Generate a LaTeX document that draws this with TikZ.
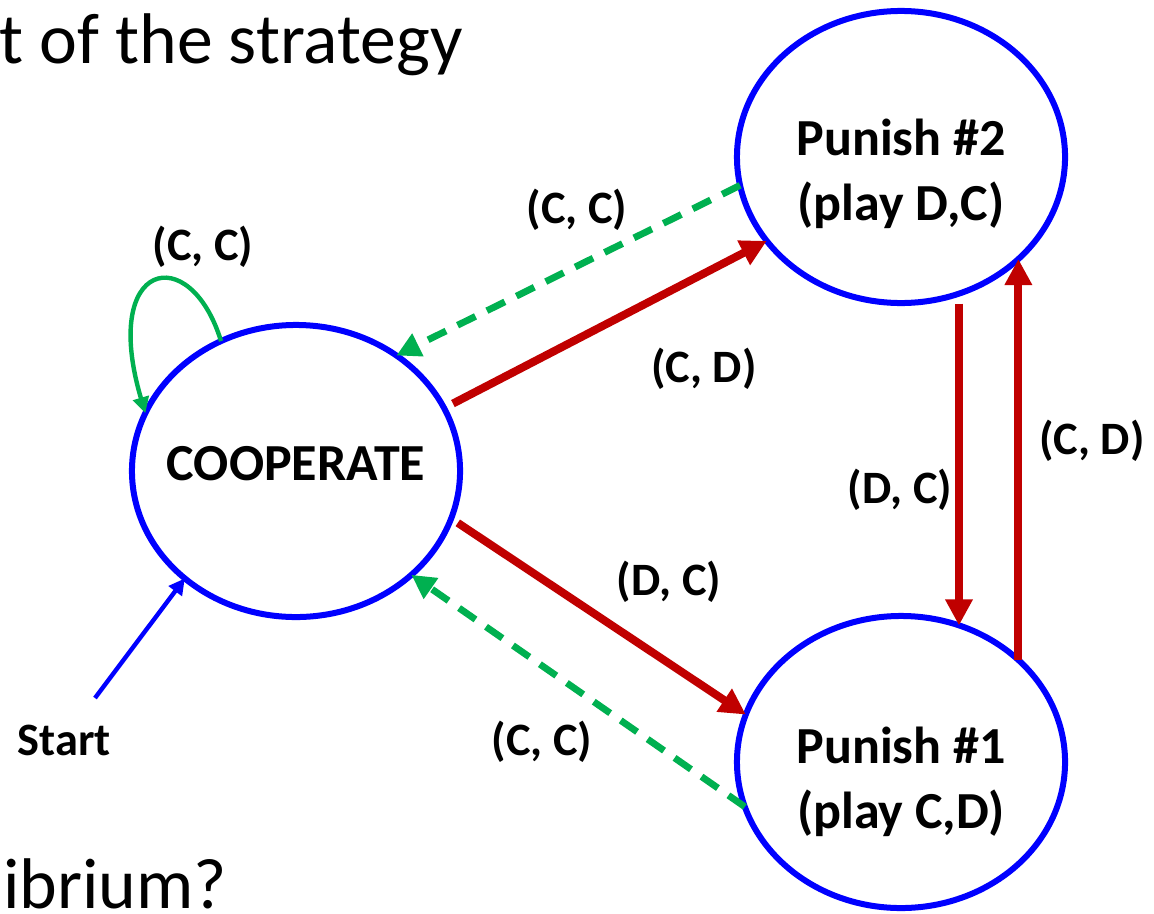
\documentclass[tikz,border=0pt]{standalone}
\usepackage{fontspec}
\setmainfont{Carlito}
\usetikzlibrary{arrows.meta, shapes.geometric}

\definecolor{stateblue}{RGB}{0,0,255}
\definecolor{punishred}{RGB}{192,0,0}
\definecolor{forgivegreen}{RGB}{0,176,80}

\begin{document}
\begin{tikzpicture}[x = 0.025cm, y = -0.025cm,
    state/.style = {draw = stateblue, line width = 0.15cm, ellipse, minimum width = 8.2cm, minimum height = 7.3cm, inner sep = 0, outer sep = 0},
    statetext/.style = {font = \fontsize{37}{46}\selectfont\bfseries, align = center, inner sep = 0, anchor = base},
    move/.style = {font = \fontsize{33}{39}\selectfont\bfseries, inner sep = 0},
    slide/.style = {font = \fontsize{51}{61}\selectfont, inner sep = 0, anchor = base west},
    punisharrow/.style = {draw = punishred, line width = 0.2cm, -{Triangle[length = 0.65cm, width = 0.65cm]}},
    forgivearrow/.style = {draw = forgivegreen, line width = 0.17cm, dash pattern = on 0.5cm off 0.32cm, -{Triangle[length = 0.6cm, width = 0.6cm]}},
    thinarrow/.style = {line width = 0.11cm, -{Triangle[length = 0.4cm, width = 0.4cm]}}]

    \useasboundingbox (0, 0) rectangle (1154, 913);

% Slide text cut off by the screenshot.
    \node[slide] (title) at (-1, 63) {t of the strategy};
    \node[slide] (question) at (3, 908) {ibrium?};

% The three states of the machine.
    \node[state] (coop) at (296, 471) {};
    \node[state] (p2) at (901, 157) {};
    \node[state] (p1) at (901, 762) {};

    \node[statetext] (cooptext) at (296, 480) {COOPERATE};
    \node[statetext] (p2text) at (901, 220) {Punish \#2\\(play D,C)};
    \node[statetext] (p1text) at (901, 828) {Punish \#1\\(play C,D)};

% Start arrow and the loop on COOPERATE.
    \coordinate (entry) at (95, 698);
    \draw[thinarrow, stateblue] (entry) -- (coop.-136.8);
    \draw[thinarrow, forgivegreen] (coop.120.4) .. controls (190, 240) and (100, 260) .. (coop.159.4);

% Transitions between the states.
    \draw[forgivearrow] (p2.190) -- (coop.49.7);
    \draw[punisharrow, shorten <= 0.25cm] (coop.23.6) -- (p2.212.5);
    \draw[punisharrow, shorten <= 0.2cm] (coop.-17.8) -- (p1.163.4);
    \draw[forgivearrow] (p1.196.8) -- (coop.-42.7);
    \draw[punisharrow, shorten <= 0.25cm] (p2.-67.6) -- (p1.67.6);
    \draw[punisharrow] (p1.41.9) -- (p2.-41.9);

% Labels of the moves.
    \node[move] (start) at (64, 740) {Start};
    \node[move] (loopcc) at (203, 247) {(C, C)};
    \node[move] (backcc) at (577, 210) {(C, C)};
    \node[move] (tocd) at (704, 369) {(C, D)};
    \node[move] (todc) at (669, 582) {(D, C)};
    \node[move] (returncc) at (542, 742) {(C, C)};
    \node[move] (downdc) at (900, 490) {(D, C)};
    \node[move] (upcd) at (1092, 441) {(C, D)};

\end{tikzpicture}
\end{document}
